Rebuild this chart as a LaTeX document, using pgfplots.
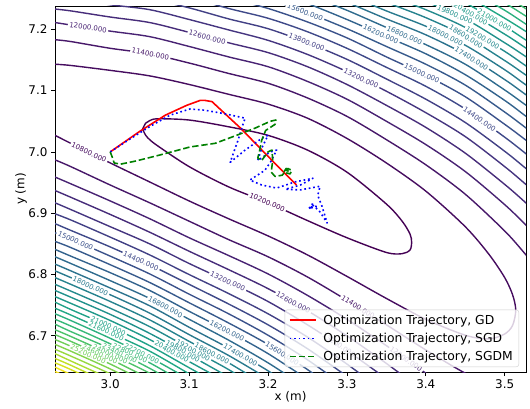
\documentclass[border=0pt]{standalone}
\usepackage{fontspec}
\setmainfont{DejaVu Sans}
\usepackage{pgfplots}
\pgfplotsset{compat=1.18}
\definecolor{c0}{RGB}{68,1,84}
\definecolor{c1}{RGB}{70,12,95}
\definecolor{c2}{RGB}{71,23,105}
\definecolor{c3}{RGB}{72,34,115}
\definecolor{c4}{RGB}{71,44,122}
\definecolor{c5}{RGB}{69,53,128}
\definecolor{c6}{RGB}{66,64,133}
\definecolor{c7}{RGB}{63,73,137}
\definecolor{c8}{RGB}{59,82,139}
\definecolor{c9}{RGB}{55,90,140}
\definecolor{c10}{RGB}{51,99,141}
\definecolor{c11}{RGB}{47,107,142}
\definecolor{c12}{RGB}{44,115,142}
\definecolor{c13}{RGB}{41,122,142}
\definecolor{c14}{RGB}{38,130,142}
\definecolor{c15}{RGB}{36,138,141}
\definecolor{c16}{RGB}{33,145,140}
\definecolor{c17}{RGB}{32,153,138}
\definecolor{c18}{RGB}{32,161,136}
\definecolor{c19}{RGB}{34,167,133}
\definecolor{c20}{RGB}{44,176,127}
\definecolor{c21}{RGB}{55,184,120}
\definecolor{c22}{RGB}{64,189,114}
\definecolor{c23}{RGB}{78,195,106}
\definecolor{c24}{RGB}{94,201,98}
\definecolor{c25}{RGB}{112,206,87}
\definecolor{c26}{RGB}{130,211,76}
\definecolor{c27}{RGB}{151,216,63}
\definecolor{c28}{RGB}{172,220,49}
\definecolor{c29}{RGB}{193,224,36}
\definecolor{c30}{RGB}{215,226,28}
\definecolor{c31}{RGB}{242,230,32}
\definecolor{c32}{RGB}{253,231,37}
\definecolor{mplgreen}{RGB}{0,128,0}
\definecolor{mplred}{RGB}{255,0,0}
\definecolor{mplblue}{RGB}{0,0,255}
\newcommand{\mainfs}{\fontsize{12}{14}\selectfont}
\newcommand{\legfs}{\fontsize{12.4}{14}\selectfont}
\tikzset{lab/.style={font=\fontsize{7}{8}\selectfont, fill=white, inner xsep=1.5bp, inner ysep=0.2bp, anchor=center}}
\pgfplotsset{cl/.style={forget plot, smooth, line width=1.4bp, color=#1, mark=none}}
\newcommand{\clab}[5]{\addplot[forget plot, draw=none] coordinates {(#1,#2)} node[lab, rotate=#3, text=#4] {#5};}
\begin{document}
\begin{tikzpicture}
\begin{axis}[
  scale only axis, width=471bp, height=366bp,
  xmin=2.930, xmax=3.527, ymin=6.641, ymax=7.238,
  xtick={3.0,3.1,3.2,3.3,3.4,3.5},
  ytick={6.7,6.8,6.9,7.0,7.1,7.2},
  /pgf/number format/fixed, /pgf/number format/fixed zerofill,
  /pgf/number format/precision=1, /pgf/number format/assume math mode=true,
  tick align=outside, tick pos=left, major tick length=4bp,
  tick style={line width=0.8bp, black},
  axis line style={line width=0.8bp, black},
  tick label style={font=\mainfs},
  label style={font=\mainfs},
  xlabel={x (m)}, ylabel={y (m)},
  xlabel style={at={(axis description cs:0.5,0)}, anchor=center, yshift=-25bp},
  ylabel style={at={(axis description cs:0,0.5)}, anchor=center, rotate=0, yshift=34bp},
  legend style={at={(1,0)}, anchor=south east, xshift=-7bp, yshift=5bp,
    draw=black!20, fill=white, fill opacity=0.8, text opacity=1, draw opacity=1,
    rounded corners=2.5bp, font=\legfs, inner xsep=4bp, inner ysep=3bp, row sep=3.2bp, column sep=5bp},
  legend cell align=left,
  legend image code/.code={\draw[#1] (0bp,0bp) -- (26bp,0bp);},
]
% 10200
\addplot[cl=c0] coordinates {(3.041,7.037)(3.045,7.047)(3.05,7.051)(3.06,7.054)(3.10,7.052)(3.15,7.041)(3.20,7.027)(3.25,7.003)(3.30,6.967)(3.35,6.915)(3.37,6.887)(3.38,6.866)(3.382,6.853)(3.38,6.840)(3.37,6.834)(3.35,6.836)(3.30,6.860)(3.25,6.888)(3.20,6.917)(3.15,6.943)(3.10,6.976)(3.06,7.010)(3.05,7.020)(3.045,7.027)(3.041,7.037)};
\clab{3.199}{6.918}{-23}{c0}{10200.000}
% 10800
\addplot[cl=c1] coordinates {(2.93,7.143)(2.95,7.141)(3.00,7.133)(3.05,7.124)(3.10,7.110)(3.15,7.094)(3.20,7.078)(3.25,7.055)(3.30,7.022)(3.35,6.982)(3.40,6.936)(3.45,6.878)(3.48,6.833)(3.50,6.795)(3.51,6.767)(3.514,6.742)(3.51,6.717)(3.50,6.703)(3.48,6.695)(3.45,6.701)(3.40,6.727)(3.35,6.761)(3.30,6.797)(3.25,6.832)(3.20,6.863)(3.15,6.891)(3.10,6.920)(3.05,6.951)(3.00,6.982)(2.95,7.014)(2.93,7.027)};
\clab{2.973}{6.999}{-25}{c1}{10800.000}
% 11400
\addplot[cl=c2] coordinates {(2.93,7.183)(2.95,7.180)(3.00,7.169)(3.05,7.160)(3.10,7.145)(3.15,7.128)(3.20,7.112)(3.25,7.088)(3.30,7.058)(3.35,7.020)(3.40,6.979)(3.45,6.931)(3.50,6.871)(3.525,6.835)(3.55,6.796)};
\addplot[cl=c2] coordinates {(2.93,6.987)(2.95,6.976)(3.00,6.946)(3.05,6.917)(3.10,6.887)(3.15,6.857)(3.20,6.829)(3.25,6.796)(3.30,6.758)(3.35,6.718)(3.40,6.677)(3.45,6.639)(3.50,6.608)};
\clab{3.051}{7.160}{-11}{c2}{11400.000}
\clab{3.314}{6.747}{-32}{c2}{11400.000}
% 12000
\addplot[cl=c3] coordinates {(2.93,7.211)(2.95,7.207)(3.00,7.197)(3.05,7.188)(3.10,7.172)(3.15,7.155)(3.20,7.139)(3.25,7.115)(3.30,7.086)(3.35,7.050)(3.40,7.012)(3.45,6.968)(3.50,6.914)(3.525,6.883)(3.55,6.850)};
\addplot[cl=c3] coordinates {(2.93,6.959)(2.95,6.948)(3.00,6.920)(3.05,6.891)(3.10,6.860)(3.15,6.831)(3.20,6.801)(3.25,6.766)(3.30,6.727)(3.35,6.684)(3.40,6.639)(3.45,6.595)};
\clab{2.972}{7.203}{-9}{c3}{12000.000}
\clab{3.375}{6.662}{-35}{c3}{12000.000}
% 12600
\addplot[cl=c4] coordinates {(2.93,7.233)(2.95,7.230)(3.00,7.220)(3.05,7.211)(3.10,7.195)(3.15,7.178)(3.20,7.162)(3.25,7.139)(3.30,7.110)(3.35,7.076)(3.40,7.040)(3.45,6.998)(3.50,6.947)(3.525,6.919)(3.55,6.889)};
\addplot[cl=c4] coordinates {(2.93,6.937)(2.95,6.926)(3.00,6.898)(3.05,6.869)(3.10,6.838)(3.15,6.808)(3.20,6.777)(3.25,6.741)(3.30,6.700)(3.35,6.655)(3.40,6.607)};
\clab{3.123}{7.187}{-15}{c4}{12600.000}
\clab{3.232}{6.754}{-29}{c4}{12600.000}
% 13200
\addplot[cl=c5] coordinates {(2.93,7.253)(2.95,7.250)(3.00,7.240)(3.05,7.232)(3.10,7.216)(3.15,7.199)(3.20,7.182)(3.25,7.159)(3.30,7.131)(3.35,7.099)(3.40,7.064)(3.45,7.025)(3.50,6.976)(3.525,6.949)(3.55,6.921)};
\addplot[cl=c5] coordinates {(2.93,6.917)(2.95,6.906)(3.00,6.878)(3.05,6.850)(3.10,6.818)(3.15,6.788)(3.20,6.756)(3.25,6.718)(3.30,6.676)(3.35,6.630)};
\clab{3.318}{7.120}{-26}{c5}{13200.000}
\clab{3.149}{6.789}{-26}{c5}{13200.000}
\clab{3.290}{6.685}{-34}{c5}{13200.000}
% 13800
\addplot[cl=c6] coordinates {(3.05,7.250)(3.10,7.235)(3.15,7.217)(3.20,7.201)(3.25,7.178)(3.30,7.151)(3.35,7.119)(3.40,7.086)(3.45,7.048)(3.50,7.001)(3.525,6.975)(3.55,6.948)};
\addplot[cl=c6] coordinates {(2.93,6.899)(2.95,6.889)(3.00,6.861)(3.05,6.832)(3.10,6.800)(3.15,6.769)(3.20,6.736)(3.25,6.698)(3.30,6.654)(3.35,6.606)};
\clab{3.249}{7.179}{-21}{c6}{13800.000}
% 14400
\addplot[cl=c7] coordinates {(3.10,7.252)(3.15,7.234)(3.20,7.218)(3.25,7.196)(3.30,7.169)(3.35,7.138)(3.40,7.107)(3.45,7.070)(3.50,7.024)(3.525,6.999)(3.55,6.973)};
\addplot[cl=c7] coordinates {(2.93,6.883)(2.95,6.872)(3.00,6.845)(3.05,6.816)(3.10,6.784)(3.15,6.752)(3.20,6.718)(3.25,6.679)(3.30,6.634)};
\clab{3.468}{7.053}{-35}{c7}{14400.000}
\clab{3.039}{6.822}{-24}{c7}{14400.000}
% 15000
\addplot[cl=c8] coordinates {(3.15,7.251)(3.20,7.234)(3.25,7.212)(3.30,7.186)(3.35,7.155)(3.40,7.125)(3.45,7.090)(3.50,7.045)(3.525,7.021)(3.55,6.996)};
\addplot[cl=c8] coordinates {(2.93,6.868)(2.95,6.858)(3.00,6.830)(3.05,6.801)(3.10,6.768)(3.15,6.736)(3.20,6.701)(3.25,6.661)(3.30,6.615)};
\clab{3.395}{7.128}{-25}{c8}{15000.000}
\clab{2.956}{6.855}{-24}{c8}{15000.000}
% 15600
\addplot[cl=c9] coordinates {(3.20,7.250)(3.25,7.227)(3.30,7.201)(3.35,7.172)(3.40,7.143)(3.45,7.109)(3.50,7.065)(3.525,7.041)(3.55,7.017)};
\addplot[cl=c9] coordinates {(2.93,6.854)(2.95,6.844)(3.00,6.816)(3.05,6.787)(3.10,6.754)(3.15,6.721)(3.20,6.686)(3.25,6.645)(3.30,6.598)};
\clab{3.247}{7.228}{-22}{c9}{15600.000}
\clab{3.218}{6.671}{-32}{c9}{15600.000}
% 16200
\addplot[cl=c10] coordinates {(3.20,7.264)(3.25,7.242)(3.30,7.216)(3.35,7.188)(3.40,7.160)(3.45,7.126)(3.50,7.084)(3.525,7.060)(3.55,7.036)};
\addplot[cl=c10] coordinates {(2.93,6.841)(2.95,6.830)(3.00,6.803)(3.05,6.774)(3.10,6.740)(3.15,6.707)(3.20,6.671)(3.25,6.629)};
\clab{3.343}{7.192}{-24}{c10}{16200.000}
\clab{3.148}{6.708}{-28}{c10}{16200.000}
% 16800
\addplot[cl=c11] coordinates {(3.25,7.256)(3.30,7.231)(3.35,7.203)(3.40,7.175)(3.45,7.143)(3.50,7.101)(3.525,7.078)(3.55,7.055)};
\addplot[cl=c11] coordinates {(2.93,6.829)(2.95,6.818)(3.00,6.790)(3.05,6.761)(3.10,6.727)(3.15,6.693)(3.20,6.656)(3.25,6.614)};
\clab{3.373}{7.190}{-24}{c11}{16800.000}
\clab{3.070}{6.747}{-28}{c11}{16800.000}
% 17400
\addplot[cl=c12] coordinates {(3.25,7.269)(3.30,7.244)(3.35,7.217)(3.40,7.191)(3.45,7.159)(3.50,7.118)(3.525,7.095)(3.55,7.072)};
\addplot[cl=c12] coordinates {(2.93,6.817)(2.95,6.806)(3.00,6.778)(3.05,6.749)(3.10,6.714)(3.15,6.680)(3.20,6.643)(3.25,6.599)};
\clab{3.458}{7.152}{-32}{c12}{17400.000}
\clab{3.165}{6.669}{-30}{c12}{17400.000}
% 18000
\addplot[cl=c13] coordinates {(3.30,7.257)(3.35,7.230)(3.40,7.205)(3.45,7.174)(3.50,7.134)(3.525,7.111)(3.55,7.089)};
\addplot[cl=c13] coordinates {(2.93,6.806)(2.95,6.795)(3.00,6.767)(3.05,6.737)(3.10,6.702)(3.15,6.668)(3.20,6.630)};
\clab{3.425}{7.190}{-26}{c13}{18000.000}
\clab{2.975}{6.781}{-24}{c13}{18000.000}
% 18600
\addplot[cl=c14] coordinates {(3.30,7.270)(3.35,7.244)(3.40,7.219)(3.45,7.189)(3.50,7.149)(3.525,7.127)(3.55,7.105)};
\addplot[cl=c14] coordinates {(2.93,6.795)(2.95,6.784)(3.00,6.756)(3.05,6.726)(3.10,6.691)(3.15,6.656)(3.20,6.617)};
\clab{3.451}{7.188}{-32}{c14}{18600.000}
\clab{3.129}{6.671}{-28}{c14}{18600.000}
% 19200
\addplot[cl=c15] coordinates {(3.35,7.256)(3.40,7.232)(3.45,7.203)(3.50,7.164)(3.525,7.142)(3.55,7.120)};
\addplot[cl=c15] coordinates {(2.93,6.784)(2.95,6.773)(3.00,6.745)(3.05,6.715)(3.10,6.680)(3.15,6.645)(3.20,6.605)};
\clab{3.472}{7.186}{-31}{c15}{19200.000}
\clab{3.105}{6.676}{-29}{c15}{19200.000}
% 19800
\addplot[cl=c16] coordinates {(3.35,7.268)(3.40,7.245)(3.45,7.217)(3.50,7.178)(3.525,7.157)(3.55,7.135)};
\addplot[cl=c16] coordinates {(2.93,6.774)(2.95,6.763)(3.00,6.735)(3.05,6.704)(3.10,6.669)(3.15,6.633)};
\clab{3.437}{7.224}{-24}{c16}{19800.000}
\clab{3.092}{6.675}{-29}{c16}{19800.000}
% 20400
\addplot[cl=c17] coordinates {(3.40,7.258)(3.45,7.230)(3.50,7.192)(3.525,7.171)(3.55,7.149)};
\addplot[cl=c17] coordinates {(2.93,6.764)(2.95,6.753)(3.00,6.725)(3.05,6.694)(3.10,6.658)(3.15,6.623)};
\clab{3.457}{7.225}{-30}{c17}{20400.000}
\clab{3.078}{6.674}{-29}{c17}{20400.000}
% 21000
\addplot[cl=c18] coordinates {(3.40,7.270)(3.45,7.243)(3.50,7.205)(3.525,7.184)(3.55,7.163)};
\addplot[cl=c18] coordinates {(2.93,6.755)(2.95,6.743)(3.00,6.715)(3.05,6.684)(3.10,6.648)(3.15,6.612)};
\clab{3.487}{7.215}{-30}{c18}{21000.000}
\clab{2.9975}{6.716}{-25}{c18}{21000.000}
% 21600
\addplot[cl=c19] coordinates {(3.45,7.256)(3.50,7.218)(3.525,7.198)(3.55,7.177)};
\addplot[cl=c19] coordinates {(2.93,6.745)(2.95,6.734)(3.00,6.705)(3.05,6.675)(3.10,6.638)};
\clab{2.995}{6.708}{-25}{c19}{21600.000}
% 22200
\addplot[cl=c20] coordinates {(3.45,7.268)(3.50,7.231)(3.525,7.210)(3.55,7.190)};
\addplot[cl=c20] coordinates {(2.93,6.736)(2.95,6.725)(3.00,6.696)(3.05,6.665)(3.10,6.629)};
\clab{3.040}{6.671}{-26}{c20}{22200.000}
% 22800
\addplot[cl=c21] coordinates {(3.45,7.280)(3.50,7.243)(3.525,7.223)(3.55,7.202)};
\addplot[cl=c21] coordinates {(2.93,6.727)(2.95,6.716)(3.00,6.687)(3.05,6.656)(3.10,6.619)};
\clab{3.025}{6.672}{-25}{c21}{22800.000}
% 23400
\addplot[cl=c22] coordinates {(3.50,7.255)(3.525,7.235)(3.55,7.215)};
\addplot[cl=c22] coordinates {(2.93,6.719)(2.95,6.707)(3.00,6.679)(3.05,6.647)(3.10,6.610)};
\clab{3.012}{6.671}{-25}{c22}{23400.000}
% 24000 - 29400
\addplot[cl=c23] coordinates {(2.93,6.710)(2.95,6.699)(3.00,6.670)(3.05,6.639)(3.10,6.601)};
\clab{3.000}{6.670}{-25}{c23}{24000.000}
\addplot[cl=c24] coordinates {(2.93,6.702)(2.95,6.691)(3.00,6.662)(3.05,6.630)};
\clab{2.987}{6.670}{-24}{c24}{24600.000}
\addplot[cl=c25] coordinates {(2.93,6.694)(2.95,6.683)(3.00,6.654)(3.05,6.622)};
\clab{2.972}{6.670}{-24}{c25}{25200.000}
\addplot[cl=c26] coordinates {(2.93,6.686)(2.95,6.675)(3.00,6.646)(3.05,6.614)};
\addplot[cl=c27] coordinates {(2.93,6.678)(2.95,6.667)(3.00,6.638)(3.05,6.606)};
\addplot[cl=c28] coordinates {(2.93,6.671)(2.95,6.659)(3.00,6.630)};
\addplot[cl=c29] coordinates {(2.93,6.663)(2.95,6.652)(3.00,6.622)};
\addplot[cl=c30] coordinates {(2.93,6.656)(2.95,6.645)(3.00,6.615)};
\addplot[cl=c31] coordinates {(2.93,6.649)(2.95,6.637)(3.00,6.608)};
\addplot[cl=c32] coordinates {(2.93,6.642)(2.95,6.630)};
% trajectories
\addplot[mplred, line width=1.6bp, line join=round] coordinates {(3.000,7.000)(3.038,7.034)(3.070,7.060)(3.097,7.076)(3.114,7.084)(3.120,7.084)(3.129,7.082)(3.139,7.070)(3.165,7.039)(3.190,7.006)(3.215,6.973)(3.236,6.946)};
\addlegendentry{Optimization Trajectory, GD}
\addplot[mplblue, line width=1.6bp, line join=round, dash pattern=on 1.7bp off 2.8bp] coordinates {(3.000,7.000)(3.025,7.021)(3.051,7.042)(3.076,7.060)(3.101,7.070)(3.120,7.068)(3.146,7.062)(3.171,7.055)(3.168,7.044)(3.162,7.019)(3.152,6.983)(3.171,7.003)(3.192,7.022)(3.200,7.027)(3.192,7.006)(3.187,6.986)(3.203,7.000)(3.211,7.003)(3.203,6.983)(3.196,6.970)(3.177,6.954)(3.192,6.946)(3.211,6.941)(3.234,6.951)(3.257,6.957)(3.241,6.946)(3.222,6.939)(3.241,6.938)(3.266,6.944)(3.263,6.929)(3.268,6.913)(3.275,6.884)(3.266,6.902)(3.257,6.913)(3.251,6.906)(3.256,6.915)(3.261,6.911)(3.253,6.908)(3.258,6.913)};
\addlegendentry{Optimization Trajectory, SGD}
\addplot[mplgreen, line width=1.6bp, line join=round, dash pattern=on 6.4bp off 2.8bp] coordinates {(3.000,7.000)(3.003,6.990)(3.005,6.982)(3.013,6.980)(3.032,6.985)(3.063,6.995)(3.101,7.008)(3.133,7.014)(3.158,7.026)(3.184,7.039)(3.203,7.050)(3.210,7.052)(3.209,7.045)(3.197,7.035)(3.192,7.019)(3.189,7.000)(3.187,6.990)(3.192,6.986)(3.200,7.000)(3.205,7.003)(3.206,6.986)(3.204,6.967)(3.209,6.960)(3.218,6.962)(3.225,6.973)(3.230,6.970)(3.228,6.964)(3.220,6.967)(3.223,6.973)(3.227,6.968)(3.223,6.970)};
\addlegendentry{Optimization Trajectory, SGDM}
\end{axis}
\pgfresetboundingbox
\path[use as bounding box] ([xshift=-55bp,yshift=-37bp]current axis.south west) rectangle ([xshift=4bp,yshift=6bp]current axis.north east);
\end{tikzpicture}
\end{document}
